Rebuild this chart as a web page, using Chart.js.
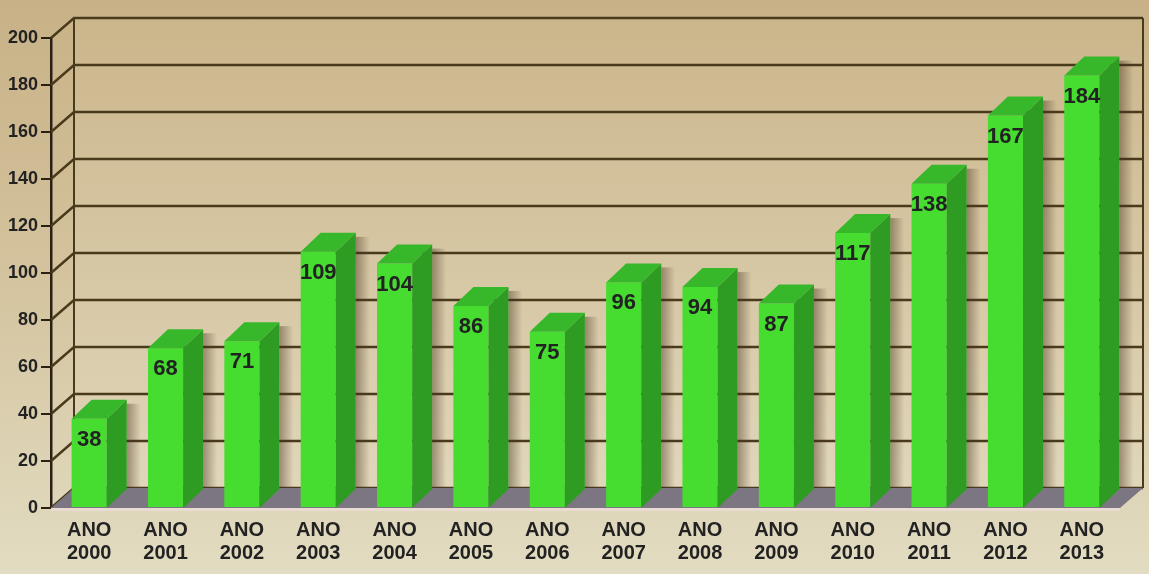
<!DOCTYPE html>
<html>
<head>
<meta charset="utf-8">
<script src="https://cdn.jsdelivr.net/npm/chart.js@4"></script>
<style>
  html, body { margin: 0; padding: 0; }
  body {
    width: 1149px; height: 574px; overflow: hidden;
    background: linear-gradient(to bottom, #c8b186 0%, #d3c29c 45%, #e2dcc2 100%);
  }
  #wrap { position: relative; width: 1149px; height: 574px; }
</style>
</head>
<body>
<div id="wrap"><canvas id="chart"></canvas></div>
<script>
const years = ['2000', '2001', '2002', '2003', '2004', '2005', '2006',
               '2007', '2008', '2009', '2010', '2011', '2012', '2013'];
const values = [38, 68, 71, 109, 104, 86, 75, 96, 94, 87, 117, 138, 167, 184];
const yTicks = [0, 20, 40, 60, 80, 100, 120, 140, 160, 180, 200];

const DX = 23, DY = 20;      // depth of the back wall
const BDX = 20, BDY = 19;    // depth of the bars

// back wall, floor and grid lines behind the bars
const wallPlugin = {
  id: 'wall',
  beforeDatasetsDraw(chart) {
    const { ctx, chartArea, scales } = chart;
    const y = scales.y;
    const left = chartArea.left, right = chartArea.right;
    const base = y.getPixelForValue(0);
    const top = y.getPixelForValue(200);
    ctx.save();

    // back wall
    const g = ctx.createLinearGradient(0, top - DY, 0, base - DY);
    g.addColorStop(0, '#cbb68b');
    g.addColorStop(1, '#e0d6ba');
    ctx.fillStyle = g;
    ctx.fillRect(left + DX, top - DY, right - left, base - top);

    // grid lines on back wall + diagonals on the side wall
    ctx.strokeStyle = '#4a3a1c';
    ctx.lineWidth = 2.5;
    yTicks.forEach(v => {
      const py = y.getPixelForValue(v);
      ctx.beginPath();
      ctx.moveTo(left, py);
      ctx.lineTo(left + DX, py - DY);
      ctx.lineTo(right + DX, py - DY);
      ctx.stroke();
    });
    ctx.lineWidth = 2;
    ctx.beginPath();
    ctx.moveTo(left + DX, top - DY);
    ctx.lineTo(left + DX, base - DY);
    ctx.moveTo(right + DX, top - DY);
    ctx.lineTo(right + DX, base - DY);
    ctx.stroke();

    // floor
    ctx.fillStyle = '#7c7683';
    ctx.beginPath();
    ctx.moveTo(left, base);
    ctx.lineTo(right, base);
    ctx.lineTo(right + DX, base - DY);
    ctx.lineTo(left + DX, base - DY);
    ctx.closePath();
    ctx.fill();
    ctx.fillStyle = '#eadbd2';
    ctx.fillRect(left, base, right - left, 3);

    // soft shadows to the right of each bar
    const meta = chart.getDatasetMeta(0);
    meta.data.forEach(bar => {
      const xr = bar.x + bar.width / 2 + BDX;
      const sg = ctx.createLinearGradient(xr, 0, xr + 14, 0);
      sg.addColorStop(0, 'rgba(70,50,30,0.45)');
      sg.addColorStop(1, 'rgba(70,50,30,0)');
      ctx.fillStyle = sg;
      ctx.fillRect(xr, bar.y - BDY + 4, 14, base - DY - (bar.y - BDY + 4));
    });
    ctx.restore();
  },
  afterDatasetsDraw(chart) {
    const { ctx, scales } = chart;
    const base = scales.y.getPixelForValue(0);
    const meta = chart.getDatasetMeta(0);
    ctx.save();
    meta.data.forEach((bar, i) => {
      const xl = bar.x - bar.width / 2, xr = bar.x + bar.width / 2, yt = bar.y;
      // side
      ctx.fillStyle = '#2e9c22';
      ctx.beginPath();
      ctx.moveTo(xr, yt);
      ctx.lineTo(xr + BDX, yt - BDY);
      ctx.lineTo(xr + BDX, base - BDY);
      ctx.lineTo(xr, base);
      ctx.closePath();
      ctx.fill();
      // top
      ctx.fillStyle = '#37b82a';
      ctx.beginPath();
      ctx.moveTo(xl, yt);
      ctx.lineTo(xr, yt);
      ctx.lineTo(xr + BDX, yt - BDY);
      ctx.lineTo(xl + BDX, yt - BDY);
      ctx.closePath();
      ctx.fill();
      // value
      ctx.fillStyle = '#222222';
      ctx.font = 'bold 22px "Liberation Sans", Arial, sans-serif';
      ctx.textAlign = 'center';
      ctx.textBaseline = 'middle';
      ctx.fillText(String(values[i]), bar.x, yt + 21);
    });
    ctx.restore();
  }
};

new Chart(document.getElementById('chart'), {
  type: 'bar',
  data: {
    labels: years.map(y => ['ANO', y]),
    datasets: [{
      data: values,
      backgroundColor: '#46dc30',
      borderWidth: 0,
      barPercentage: 0.46,
      categoryPercentage: 1
    }]
  },
  options: {
    responsive: true,
    maintainAspectRatio: false,
    animation: false,
    layout: { padding: { left: 0, right: 29, top: 38, bottom: 0 } },
    plugins: { legend: { display: false }, tooltip: { enabled: false } },
    scales: {
      x: {
        grid: { display: false },
        border: { display: false },
        ticks: {
          color: '#222222',
          padding: 3,
          maxRotation: 0,
          font: { family: '"Liberation Sans", Arial, sans-serif', size: 20, weight: 'bold', lineHeight: 1.15 }
        },
        afterFit(scale) { scale.height = 66; }
      },
      y: {
        min: 0, max: 200,
        ticks: {
          stepSize: 20,
          color: '#222222',
          padding: 3,
          font: { family: '"Liberation Sans", Arial, sans-serif', size: 18, weight: 'bold' }
        },
        grid: { drawOnChartArea: false, drawTicks: true, tickLength: 10, color: '#2a2014', lineWidth: 2 },
        border: { display: true, color: '#2a2014', width: 2.5 },
        afterFit(scale) { scale.width = 51; }
      }
    }
  },
  plugins: [wallPlugin]
});
</script>
</body>
</html>
